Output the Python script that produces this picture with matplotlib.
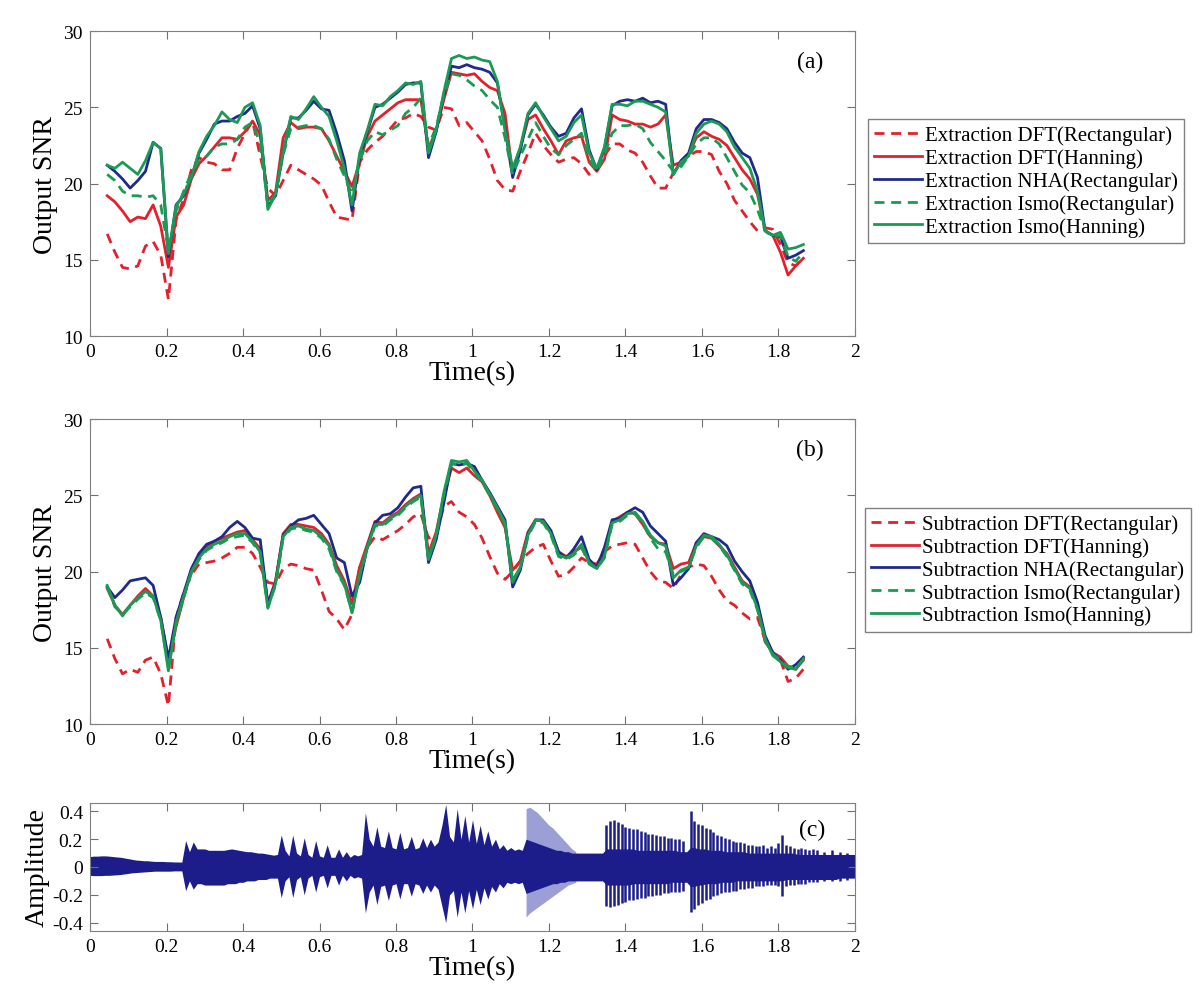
import numpy as np
import matplotlib
matplotlib.use('Agg')
import matplotlib.pyplot as plt

plt.rcParams['font.family'] = ['Liberation Serif', 'DejaVu Serif']
plt.rcParams['axes.unicode_minus'] = False

# time grid of the SNR curves (s)
t_snr = np.round(0.045 + 0.02*np.arange(92), 3)

# ---- panel (a): extraction ----
a_dft_rect = [16.7, 15.5, 14.5, 14.4, 14.6, 15.9, 16.2, 15.3, 12.4, 17.6,
              19.0, 20.9, 21.7, 21.4, 21.3, 20.9, 20.9, 22.3, 23.3, 24.1,
              21.8, 19.7, 19.2, 20.2, 21.2, 20.9, 20.6, 20.3, 19.9, 18.8,
              17.8, 17.7, 17.6, 21.4, 22.2, 22.7, 23.1, 23.6, 24.2, 24.3,
              24.6, 24.4, 23.7, 23.5, 25.0, 24.9, 23.8, 24.0, 23.4, 22.8,
              21.6, 20.2, 19.6, 19.5, 20.8, 22.0, 23.3, 22.5, 21.9, 21.4,
              21.6, 21.7, 21.3, 20.6, 21.0, 21.8, 22.6, 22.6, 22.2, 22.0,
              21.4, 20.5, 19.7, 19.7, 20.7, 21.3, 21.8, 22.1, 22.1, 21.9,
              20.8, 20.0, 18.9, 18.2, 17.5, 16.9, 17.1, 17.0, 16.0, 14.8,
              14.6, 15.2]
a_dft_han = [19.2, 18.8, 18.2, 17.5, 17.8, 17.7, 18.6, 17.2, 14.5, 17.8,
             18.6, 20.3, 21.3, 21.8, 22.4, 23.0, 23.0, 22.9, 23.4, 24.1,
             23.2, 18.9, 19.4, 23.0, 24.0, 23.6, 23.7, 23.7, 23.6, 22.8,
             21.8, 20.8, 19.8, 21.4, 23.1, 24.1, 24.5, 24.9, 25.3, 25.5,
             25.5, 25.5, 22.3, 23.5, 25.5, 27.3, 27.2, 27.1, 27.2, 26.7,
             26.3, 26.1, 24.6, 20.6, 22.3, 24.2, 24.5, 23.6, 22.8, 21.9,
             22.8, 23.0, 23.1, 21.4, 20.8, 21.6, 24.5, 24.2, 24.1, 23.9,
             23.9, 23.7, 23.9, 24.5, 21.2, 21.4, 21.9, 23.0, 23.4, 23.1,
             22.9, 22.5, 21.7, 20.9, 20.3, 19.3, 16.9, 16.6, 15.5, 14.0,
             14.6, 15.1]
a_nha_rect = [21.2, 20.8, 20.3, 19.7, 20.2, 20.8, 22.7, 22.3, 15.2, 18.6,
              19.2, 20.4, 22.0, 22.9, 23.9, 24.1, 24.1, 24.4, 24.6, 25.1,
              23.6, 18.5, 19.2, 22.0, 24.3, 24.3, 24.8, 25.4, 24.9, 24.8,
              23.3, 21.5, 18.2, 21.7, 23.4, 25.0, 25.2, 25.6, 26.0, 26.5,
              26.6, 26.6, 21.7, 23.4, 25.8, 27.7, 27.6, 27.8, 27.6, 27.5,
              27.3, 26.6, 23.6, 20.4, 22.2, 24.5, 25.2, 24.5, 23.7, 23.1,
              23.3, 24.3, 24.9, 22.2, 20.9, 22.3, 25.1, 25.4, 25.5, 25.4,
              25.6, 25.3, 25.4, 25.2, 20.6, 21.5, 22.0, 23.6, 24.2, 24.2,
              24.0, 23.6, 22.7, 22.0, 21.7, 20.4, 16.9, 16.6, 16.5, 15.1,
              15.3, 15.6]
a_ism_rect = [20.6, 20.2, 19.5, 19.2, 19.2, 19.1, 19.2, 18.6, 15.6, 18.2,
              19.5, 20.7, 21.5, 21.8, 22.4, 22.6, 22.6, 22.9, 23.7, 24.0,
              22.6, 18.6, 19.3, 21.9, 23.6, 23.7, 23.8, 23.8, 23.6, 22.9,
              21.6, 20.5, 19.3, 21.5, 22.8, 23.4, 23.2, 23.5, 23.8, 24.6,
              25.0, 25.6, 22.5, 23.7, 25.8, 27.2, 27.1, 26.8, 26.4, 26.1,
              25.5, 25.0, 23.0, 20.6, 21.8, 22.9, 24.0, 23.1, 22.3, 21.9,
              22.5, 22.9, 23.3, 21.6, 20.8, 21.9, 23.3, 23.8, 23.8, 23.9,
              23.6, 22.7, 22.1, 21.5, 20.8, 21.1, 21.8, 22.6, 23.0, 23.0,
              22.6, 21.7, 20.8, 19.9, 19.4, 18.3, 16.9, 16.5, 16.6, 15.2,
              14.9, 15.5]
a_ism_han = [21.2, 21.0, 21.4, 21.0, 20.6, 21.5, 22.7, 22.3, 15.4, 18.5,
             19.3, 20.4, 22.1, 23.1, 23.8, 24.7, 24.2, 24.0, 25.0, 25.3,
             23.8, 18.3, 19.3, 22.1, 24.4, 24.2, 24.9, 25.7, 25.0, 24.4,
             22.8, 21.0, 18.6, 22.0, 23.5, 25.2, 25.1, 25.7, 26.1, 26.6,
             26.5, 26.7, 22.0, 23.5, 26.0, 28.2, 28.4, 28.2, 28.3, 28.1,
             28.0, 26.7, 23.5, 21.0, 22.4, 24.6, 25.3, 24.4, 23.6, 22.8,
             23.1, 24.0, 24.5, 22.0, 21.0, 22.4, 25.2, 25.2, 25.1, 25.4,
             25.4, 25.2, 25.0, 24.7, 20.6, 21.4, 21.8, 23.3, 23.9, 24.1,
             23.9, 23.4, 22.4, 21.7, 21.0, 19.5, 16.9, 16.6, 16.8, 15.7,
             15.8, 16.0]

# ---- panel (b): subtraction ----
b_dft_rect = [15.6, 14.3, 13.3, 13.6, 13.4, 14.2, 14.4, 13.3, 11.2, 17.0,
              18.6, 19.8, 20.5, 20.6, 20.7, 20.9, 21.2, 21.6, 21.6, 21.2,
              20.3, 19.3, 19.2, 20.2, 20.5, 20.4, 20.2, 20.1, 18.8, 17.4,
              16.9, 16.2, 17.2, 20.3, 21.6, 22.3, 22.1, 22.4, 22.7, 23.1,
              23.6, 23.8, 22.2, 22.4, 24.3, 24.6, 23.9, 23.6, 23.1, 22.2,
              21.0, 19.9, 19.5, 20.0, 20.7, 21.2, 21.6, 21.8, 20.7, 19.7,
              19.8, 20.3, 20.9, 20.6, 20.5, 21.3, 21.7, 21.8, 21.9, 21.8,
              20.9, 20.0, 19.4, 19.3, 18.9, 19.8, 20.3, 20.5, 20.4, 19.7,
              18.8, 18.1, 17.8, 17.3, 16.9, 17.0, 15.5, 14.7, 14.2, 12.8,
              13.0, 13.6]
b_dft_han = [18.9, 17.8, 17.2, 17.8, 18.4, 18.9, 18.4, 17.0, 14.2, 16.4,
             18.3, 20.1, 21.0, 21.6, 22.0, 22.2, 22.4, 22.6, 22.7, 22.1,
             21.5, 17.9, 19.4, 22.5, 23.1, 23.1, 23.0, 22.9, 22.5, 21.8,
             20.4, 19.4, 17.9, 20.3, 21.8, 23.3, 23.2, 23.6, 23.9, 24.4,
             24.8, 25.1, 21.2, 22.6, 25.0, 26.8, 26.5, 26.8, 26.3, 25.9,
             25.0, 23.9, 22.9, 20.1, 20.7, 22.6, 23.4, 23.3, 22.6, 21.3,
             21.0, 21.3, 21.6, 20.7, 20.4, 21.2, 23.3, 23.6, 23.9, 23.8,
             23.1, 22.3, 21.9, 21.8, 20.2, 20.5, 20.6, 21.9, 22.3, 22.2,
             21.7, 21.2, 20.3, 19.4, 19.0, 17.8, 15.4, 14.7, 14.4, 13.8,
             13.6, 14.2]
b_nha_rect = [19.0, 18.3, 18.8, 19.4, 19.5, 19.6, 19.1, 17.0, 14.3, 17.0,
              18.6, 20.2, 21.2, 21.8, 22.0, 22.3, 22.9, 23.3, 22.9, 22.2,
              22.1, 17.9, 19.3, 22.4, 23.0, 23.4, 23.5, 23.7, 23.1, 22.5,
              20.9, 20.6, 18.4, 19.3, 21.6, 23.2, 23.7, 23.8, 24.2, 24.9,
              25.5, 25.6, 20.6, 22.1, 24.5, 27.1, 27.0, 27.1, 26.9, 26.0,
              25.2, 24.3, 23.4, 19.0, 20.1, 22.5, 23.4, 23.4, 22.7, 21.3,
              20.9, 21.5, 22.3, 20.8, 20.3, 21.6, 23.4, 23.5, 23.9, 24.2,
              23.9, 23.0, 22.5, 22.0, 19.1, 19.6, 20.2, 21.9, 22.5, 22.3,
              22.1, 21.7, 20.7, 20.0, 19.4, 18.0, 15.8, 14.7, 14.2, 13.6,
              13.9, 14.4]
b_ism_rect = [19.0, 17.7, 17.2, 17.7, 18.2, 18.6, 18.3, 16.8, 13.7, 16.6,
              18.3, 19.9, 20.8, 21.4, 21.7, 21.9, 22.2, 22.3, 22.4, 21.9,
              21.2, 17.7, 19.1, 22.2, 22.8, 22.9, 22.7, 22.6, 22.2, 21.5,
              20.0, 19.1, 17.4, 19.7, 21.5, 23.0, 23.0, 23.4, 23.7, 24.2,
              24.6, 24.9, 20.9, 22.3, 25.0, 27.1, 27.0, 27.1, 26.5, 25.9,
              25.0, 24.1, 23.1, 19.5, 20.2, 22.3, 23.3, 23.2, 22.4, 21.0,
              20.8, 21.1, 21.6, 20.5, 20.2, 20.9, 23.1, 23.3, 23.7, 23.8,
              23.2, 22.2, 21.5, 21.3, 19.8, 20.0, 20.3, 21.6, 22.3, 22.2,
              21.7, 21.0, 20.1, 19.2, 18.8, 17.5, 15.5, 14.6, 14.2, 13.8,
              13.7, 14.2]
b_ism_han = [19.1, 17.8, 17.1, 17.8, 18.3, 18.7, 18.4, 16.8, 13.5, 16.7,
             18.4, 20.0, 20.9, 21.5, 21.8, 22.0, 22.3, 22.5, 22.5, 22.0,
             21.3, 17.6, 19.2, 22.3, 22.9, 23.0, 22.8, 22.7, 22.3, 21.7,
             20.1, 19.2, 17.3, 19.8, 21.6, 23.1, 23.1, 23.5, 23.8, 24.3,
             24.7, 25.0, 20.8, 22.4, 25.2, 27.3, 27.2, 27.3, 26.6, 26.0,
             25.1, 24.2, 23.2, 19.3, 20.3, 22.4, 23.4, 23.3, 22.5, 21.1,
             20.9, 21.2, 21.8, 20.6, 20.2, 21.0, 23.2, 23.4, 23.8, 23.9,
             23.3, 22.4, 21.9, 21.7, 19.6, 20.1, 20.3, 21.7, 22.4, 22.3,
             21.8, 21.1, 20.2, 19.3, 18.9, 17.6, 15.6, 14.5, 14.1, 13.7,
             13.6, 14.3]

# ---- panel (c): waveform envelope, 0.01 s steps ----
t_env = np.round(np.arange(201)*0.01, 2)
env_hi = [.075, .078, .078, .080, .080, .078, .075, .072, .070, .065,
          .060, .055, .050, .048, .045, .045, .042, .040, .040, .040,
          .038, .038, .036, .036, .035, .19, .11, .18, .13, .13,
          .13, .12, .12, .12, .12, .12, .125, .13, .125, .12,
          .115, .11, .11, .105, .10, .10, .095, .09, .085, .09,
          .23, .12, .08, .23, .10, .08, .21, .09, .07, .19,
          .08, .07, .16, .07, .07, .13, .07, .11, .07, .09,
          .08, .09, .39, .20, .15, .29, .15, .14, .26, .14,
          .13, .25, .13, .14, .22, .13, .14, .21, .14, .20,
          .15, .18, .30, .45, .22, .18, .42, .20, .37, .18,
          .34, .17, .30, .16, .26, .15, .20, .13, .16, .12,
          .14, .12, .13, .12, .20, .19, .18, .17, .16, .15,
          .14, .13, .12, .12, .11, .11, .10, .10, .10, .10,
          .10, .10, .10, .10, .10, .13, .13, .13, .13, .13,
          .13, .13, .13, .12, .12, .12, .12, .12, .12, .12,
          .12, .12, .12, .12, .11, .11, .11, .14, .14, .13,
          .13, .13, .12, .12, .12, .12, .11, .11, .11, .11,
          .11, .11, .10, .10, .10, .10, .10, .10, .10, .10,
          .10, .10, .10, .10, .10, .09, .09, .09, .09, .09,
          .09, .09, .09, .09, .09, .09, .09, .09, .09, .09,
          .09]
env_lo = [-.060, -.062, -.062, -.062, -.060, -.060, -.058, -.056, -.054, -.050,
          -.046, -.042, -.040, -.038, -.036, -.034, -.032, -.030, -.030, -.030,
          -.030, -.030, -.028, -.028, -.028, -.17, -.10, -.16, -.12, -.12,
          -.13, -.13, -.13, -.13, -.13, -.13, -.12, -.12, -.12, -.11,
          -.11, -.10, -.10, -.10, -.09, -.09, -.09, -.08, -.08, -.08,
          -.22, -.10, -.07, -.22, -.09, -.07, -.20, -.08, -.06, -.18,
          -.07, -.06, -.15, -.06, -.06, -.13, -.06, -.10, -.06, -.08,
          -.07, -.08, -.33, -.18, -.13, -.27, -.14, -.13, -.24, -.13,
          -.12, -.23, -.12, -.12, -.21, -.12, -.13, -.19, -.13, -.18,
          -.13, -.16, -.28, -.40, -.20, -.17, -.36, -.18, -.33, -.17,
          -.30, -.16, -.27, -.15, -.23, -.14, -.18, -.12, -.15, -.11,
          -.12, -.11, -.12, -.11, -.19, -.18, -.17, -.16, -.15, -.14,
          -.13, -.12, -.12, -.11, -.11, -.10, -.10, -.10, -.10, -.10,
          -.10, -.10, -.10, -.10, -.10, -.13, -.13, -.13, -.13, -.13,
          -.13, -.13, -.12, -.12, -.12, -.12, -.12, -.12, -.12, -.12,
          -.12, -.12, -.11, -.11, -.11, -.11, -.11, -.14, -.14, -.13,
          -.13, -.12, -.12, -.12, -.12, -.11, -.11, -.11, -.11, -.10,
          -.10, -.10, -.10, -.10, -.10, -.10, -.10, -.10, -.10, -.10,
          -.10, -.10, -.09, -.09, -.09, -.09, -.09, -.09, -.09, -.09,
          -.09, -.09, -.09, -.09, -.09, -.09, -.08, -.08, -.08, -.08,
          -.08]
# faint burst around 1.14 s
t_faint = [1.14, 1.15, 1.16, 1.17, 1.18, 1.19, 1.20, 1.21, 1.22, 1.23, 1.24, 1.25, 1.26, 1.27]
faint_hi = [.42, .43, .41, .39, .36, .33, .30, .28, .25, .22, .19, .16, .13, .11]
faint_lo = [-.36, -.33, -.31, -.29, -.27, -.25, -.23, -.21, -.19, -.17, -.15, -.13, -.12, -.11]
# sharp spikes of the later notes
spk_t = [1.35, 1.36, 1.37, 1.38, 1.39, 1.40, 1.41, 1.42, 1.43, 1.44, 1.45, 1.46, 1.47,
         1.48, 1.49, 1.50, 1.51, 1.52, 1.53, 1.54, 1.55,
         1.57, 1.58, 1.59, 1.60, 1.61, 1.62, 1.63, 1.64, 1.65, 1.66, 1.67, 1.68, 1.69,
         1.70, 1.71, 1.72, 1.73, 1.74, 1.75, 1.76, 1.77, 1.78, 1.79, 1.80, 1.81, 1.82,
         1.83, 1.84, 1.85, 1.86, 1.87, 1.88, 1.89, 1.90, 1.92, 1.94, 1.96, 1.98]
spk_hi = [.30, .33, .34, .32, .31, .29, .28, .27, .27, .26, .25, .24, .24,
          .23, .22, .22, .21, .21, .20, .20, .19,
          .40, .33, .31, .30, .28, .27, .25, .23, .22, .21, .20, .19, .18,
          .18, .17, .16, .16, .15, .15, .16, .14, .15, .14, .17, .23, .16,
          .15, .14, .13, .14, .13, .12, .13, .12, .11, .12, .11, .10]
spk_lo = [-.28, -.29, -.28, -.27, -.26, -.25, -.24, -.24, -.23, -.22, -.22, -.21, -.21,
          -.20, -.20, -.19, -.19, -.18, -.18, -.18, -.17,
          -.32, -.30, -.27, -.26, -.24, -.23, -.21, -.20, -.19, -.18, -.18, -.17, -.17,
          -.16, -.16, -.15, -.15, -.14, -.14, -.14, -.13, -.13, -.13, -.14, -.21, -.14,
          -.13, -.13, -.12, -.12, -.12, -.11, -.11, -.11, -.10, -.10, -.10, -.09]

x_ticks = [0, 0.2, 0.4, 0.6, 0.8, 1, 1.2, 1.4, 1.6, 1.8, 2]
x_ticklabels = ['0', '0.2', '0.4', '0.6', '0.8', '1', '1.2', '1.4', '1.6', '1.8', '2']
snr_ticks = [10, 15, 20, 25, 30]
amp_ticks = [-0.4, -0.2, 0, 0.2, 0.4]
amp_ticklabels = ['-0.4', '-0.2', '0', '0.2', '0.4']

RED = '#e3202b'
BLUE = '#1f2a8c'
GREEN = '#1b9a55'
NAVY = '#1c1d8a'
FAINT = '#9c9fd6'
DASH = (0, (3.6, 2.4))

fig = plt.figure(figsize=(12, 10.03), dpi=100)
ax1 = fig.add_axes([0.075, 0.664, 0.6375, 0.304])
ax2 = fig.add_axes([0.075, 0.277, 0.6375, 0.304])
ax3 = fig.add_axes([0.075, 0.0708, 0.6375, 0.1276])


def style(ax):
    ax.set_xlim(0, 2)
    ax.set_xticks(x_ticks)
    ax.set_xticklabels(x_ticklabels)
    ax.tick_params(direction='in', top=True, right=True, length=6,
                   labelsize=14, pad=5, color='#707070')
    for s in ax.spines.values():
        s.set_color('#808080')
    ax.set_xlabel('Time(s)', fontsize=20, labelpad=0)


def snr_panel(ax, series, labels, tag, leg_anchor):
    styles = [(RED, DASH), (RED, '-'), (BLUE, '-'), (GREEN, DASH), (GREEN, '-')]
    for y, lab, (c, ls) in zip(series, labels, styles):
        ax.plot(t_snr, y, color=c, linestyle=ls, lw=2.0, label=lab)
    style(ax)
    ax.set_ylim(10, 30)
    ax.set_yticks(snr_ticks)
    ax.set_ylabel('Output SNR', fontsize=20)
    ax.text(0.941, 0.9, tag, transform=ax.transAxes, fontsize=17,
            ha='center', va='center')
    leg = fig.legend(loc='upper left', bbox_to_anchor=leg_anchor, fontsize=15,
                     handles=ax.get_lines(), fancybox=False, framealpha=1,
                     edgecolor='#808080', borderpad=0.3, labelspacing=0.15,
                     handlelength=2.3, handletextpad=0.15, borderaxespad=0)
    leg.get_frame().set_linewidth(1.0)


snr_panel(ax1, [a_dft_rect, a_dft_han, a_nha_rect, a_ism_rect, a_ism_han],
          ['Extraction DFT(Rectangular)', 'Extraction DFT(Hanning)',
           'Extraction NHA(Rectangular)', 'Extraction Ismo(Rectangular)',
           'Extraction Ismo(Hanning)'], '(a)', (0.723, 0.880))
snr_panel(ax2, [b_dft_rect, b_dft_han, b_nha_rect, b_ism_rect, b_ism_han],
          ['Subtraction DFT(Rectangular)', 'Subtraction DFT(Hanning)',
           'Subtraction NHA(Rectangular)', 'Subtraction Ismo(Rectangular)',
           'Subtraction Ismo(Hanning)'], '(b)', (0.721, 0.4925))

# waveform
ax3.fill_between(t_faint, faint_lo, faint_hi, color=FAINT, lw=0)
ax3.fill_between(t_env, env_lo, env_hi, color=NAVY, lw=0)
ax3.vlines(spk_t, spk_lo, spk_hi, color=NAVY, lw=1.8)
style(ax3)
ax3.set_ylim(-0.46, 0.46)
ax3.set_yticks(amp_ticks)
ax3.set_yticklabels(amp_ticklabels)
ax3.set_ylabel('Amplitude', fontsize=20, labelpad=2)
ax3.text(0.944, 0.79, '(c)', transform=ax3.transAxes, fontsize=17,
         ha='center', va='center')

fig.savefig('out.png', dpi=100)
